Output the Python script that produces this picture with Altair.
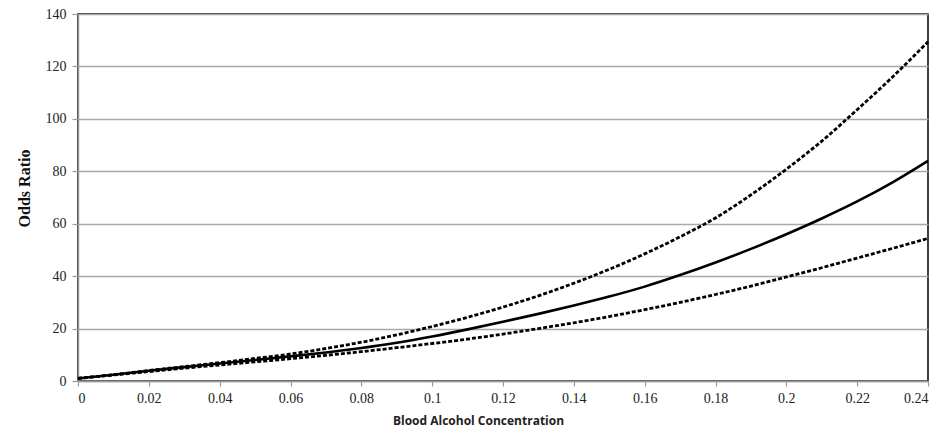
import altair as alt
import pandas as pd

bac = [0.00, 0.01, 0.02, 0.03, 0.04, 0.05, 0.06, 0.07, 0.08, 0.09, 0.10, 0.11, 0.12,
       0.13, 0.14, 0.15, 0.16, 0.17, 0.18, 0.19, 0.20, 0.21, 0.22, 0.23, 0.24]
odds_center = [1.0, 2.4, 3.9, 5.3, 6.7, 8.0, 9.4, 10.9, 12.6, 14.6, 17.0, 19.7, 22.6,
               25.6, 28.8, 32.2, 36.0, 40.4, 45.2, 50.4, 56.0, 62.0, 68.5, 75.8, 84.0]
odds_upper = [1.0, 2.4, 4.0, 5.5, 7.0, 8.6, 10.3, 12.4, 14.8, 17.6, 20.8, 24.3, 28.2,
              32.5, 37.3, 42.6, 48.5, 55.0, 62.2, 71.0, 80.8, 91.5, 103.5, 116.0, 129.4]
odds_lower = [1.0, 2.3, 3.6, 4.9, 6.1, 7.3, 8.5, 9.8, 11.2, 12.7, 14.3, 16.0, 17.9,
              20.0, 22.2, 24.6, 27.2, 30.0, 33.0, 36.2, 39.7, 43.2, 46.9, 50.6, 54.4]

x_ticks = [0, 0.02, 0.04, 0.06, 0.08, 0.1, 0.12, 0.14, 0.16, 0.18, 0.2, 0.22, 0.24]
y_ticks = [0, 20, 40, 60, 80, 100, 120, 140]

rows = []
for name, vals in [("center", odds_center), ("upper", odds_upper), ("lower", odds_lower)]:
    for x, y in zip(bac, vals):
        rows.append({"bac": x, "odds": y, "series": name})
df = pd.DataFrame(rows)

x_enc = alt.X("bac:Q",
              scale=alt.Scale(domain=[0, 0.24], nice=False, zero=True),
              axis=alt.Axis(values=x_ticks, labelExpr="format(datum.value, '~g')",
                            title="Blood Alcohol Concentration", grid=False,
                            titleFont="Open Sans", titleFontWeight="bold", titleFontSize=12,
                            titleColor="#222", titleX=400, titlePadding=10,
                            labelFont="Liberation Serif", labelFontSize=14, labelColor="#222",
                            labelPadding=5,
                            domainColor="#9a9a9a", domainWidth=1.5,
                            tickColor="#9a9a9a", tickSize=5, tickWidth=1.2))
y_enc = alt.Y("odds:Q",
              scale=alt.Scale(domain=[0, 140], nice=False),
              axis=alt.Axis(values=y_ticks, title="Odds Ratio", grid=True,
                            gridColor="#a8a8a8", gridWidth=1.3,
                            titleFont="Liberation Serif", titleFontWeight="bold", titleFontSize=16,
                            titleColor="#111", titleX=-54, titleY=174, titleAngle=-90,
                            titleBaseline="middle", titleAlign="center",
                            labelFont="Liberation Serif", labelFontSize=14, labelColor="#222",
                            labelPadding=6,
                            domainColor="#9a9a9a", domainWidth=1.5,
                            tickColor="#9a9a9a", tickSize=6, tickWidth=1.2))

base = alt.Chart(df)
center = base.transform_filter(alt.datum.series == "center").mark_line(
    color="black", strokeWidth=2.6, interpolate="monotone").encode(x=x_enc, y=y_enc)
upper = base.transform_filter(alt.datum.series == "upper").mark_line(
    color="black", strokeWidth=2.8, strokeDash=[4, 2], interpolate="monotone").encode(x=x_enc, y=y_enc)
lower = base.transform_filter(alt.datum.series == "lower").mark_line(
    color="black", strokeWidth=2.8, strokeDash=[4, 2], interpolate="monotone").encode(x=x_enc, y=y_enc)

chart = alt.layer(upper, lower, center).properties(
    width=850, height=367,
    padding={"left": 70, "top": 6, "right": 10, "bottom": 54},
    autosize=alt.AutoSizeParams(type="none"),
    background="white",
).configure_view(stroke="black", strokeWidth=1.5)

chart.save("out.html", embed_options={"renderer": "svg", "actions": False})
